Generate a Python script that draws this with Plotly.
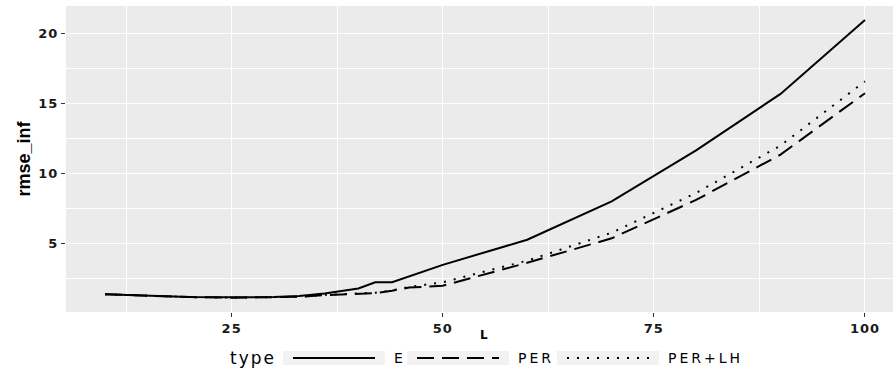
import plotly.graph_objects as go

# ---------------- data ----------------
L = [10, 15, 20, 25, 30, 33, 36, 40, 42, 44, 46, 50, 60, 70, 80, 90, 100]
E = [1.34, 1.22, 1.14, 1.12, 1.14, 1.22, 1.40, 1.75, 2.20, 2.20, 2.62, 3.45, 5.25, 8.00, 11.65, 15.70, 21.00]
PER = [1.34, 1.22, 1.14, 1.10, 1.11, 1.16, 1.28, 1.36, 1.42, 1.60, 1.82, 1.95, 3.60, 5.35, 8.10, 11.35, 15.75]
PER_LH = [1.34, 1.22, 1.14, 1.10, 1.11, 1.16, 1.30, 1.40, 1.45, 1.62, 1.86, 2.20, 3.75, 5.75, 8.60, 12.00, 16.60]

series_names = ["E", "PER", "PER+LH"]
legend_title = "type"
x_title = "L"
y_title = "rmse_inf"
x_tick_vals = [25, 50, 75, 100]
x_tick_labels = ["25", "50", "75", "100"]
y_tick_vals = [5, 10, 15, 20]
y_tick_labels = ["5", "10", "15", "20"]

# ---------------- layout geometry ----------------
W, H = 893, 371
ML, MR, MT, MB = 66, 0, 6, 59
PW = W - ML - MR
PH = H - MT - MB


def px_x(p):
    return (p - ML) / PW


def px_y(p):
    return (H - MB - p) / PH


dashes = ["solid", "17px,8px", "2px,8px"]
values = [E, PER, PER_LH]

fig = go.Figure()
for name, ys, d in zip(series_names, values, dashes):
    fig.add_trace(go.Scatter(
        x=L, y=ys, mode="lines", name=name, showlegend=False,
        line=dict(color="black", width=2, dash=d),
    ))

tick_font = dict(family="DejaVu Sans", size=13, color="#1a1a1a", weight="bold")


def spaced(t, sp):
    return f'<span style="letter-spacing:{sp}px">{t}</span>'


fig.update_xaxes(
    range=[5.38, 103.32], tickmode="array", tickvals=x_tick_vals,
    ticktext=[spaced(t, 1) for t in x_tick_labels],
    showgrid=True, gridcolor="white", gridwidth=1.4,
    minor=dict(dtick=12.5, tick0=0, showgrid=True, gridcolor="white", gridwidth=0.6),
    ticks="outside", ticklen=4, tickwidth=1, tickcolor="#333333",
    tickfont=tick_font, zeroline=False, showline=False,
)
fig.update_yaxes(
    range=[0.07, 22.0], tickmode="array", tickvals=y_tick_vals,
    ticktext=[spaced(t, 1) for t in y_tick_labels],
    showgrid=True, gridcolor="white", gridwidth=1.4,
    minor=dict(dtick=2.5, tick0=0, showgrid=True, gridcolor="white", gridwidth=0.6),
    ticks="outside", ticklen=4, tickwidth=1, tickcolor="#333333",
    tickfont=tick_font, zeroline=False, showline=False,
)

shapes = []
annotations = []

# axis titles
annotations.append(dict(
    text=x_title, xref="paper", yref="paper", x=px_x(484), y=px_y(335),
    xanchor="center", yanchor="middle", showarrow=False,
    font=dict(family="DejaVu Sans", size=12, color="black", weight="bold"),
))
annotations.append(dict(
    text=y_title, xref="paper", yref="paper", x=px_x(23.5), y=px_y(159),
    xanchor="center", yanchor="middle", showarrow=False, textangle=-90,
    font=dict(family="Liberation Sans", size=18, color="black", weight="bold"),
))

# legend (drawn manually: wide grey keys)
annotations.append(dict(
    text=spaced(legend_title, 2), xref="paper", yref="paper", x=px_x(228), y=px_y(358),
    xanchor="left", yanchor="middle", showarrow=False,
    font=dict(family="DejaVu Sans", size=17, color="black"),
))
box_lefts = [283, 407, 557]
box_w = 102
for name, d, bl in zip(series_names, dashes, box_lefts):
    shapes.append(dict(
        type="rect", xref="paper", yref="paper",
        x0=px_x(bl), x1=px_x(bl + box_w), y0=px_y(351), y1=px_y(365),
        fillcolor="#f2f2f2", line=dict(width=0), layer="below",
    ))
    shapes.append(dict(
        type="line", xref="paper", yref="paper",
        x0=px_x(bl + 10), x1=px_x(bl + box_w - 10), y0=px_y(358), y1=px_y(358),
        line=dict(color="black", width=2, dash=d),
    ))
    annotations.append(dict(
        text=spaced(name, 3), xref="paper", yref="paper", x=px_x(bl + box_w + 7), y=px_y(358),
        xanchor="left", yanchor="middle", showarrow=False,
        font=dict(family="DejaVu Sans", size=14, color="black"),
    ))

fig.update_layout(
    width=W, height=H,
    margin=dict(l=ML, r=MR, t=MT, b=MB, pad=0),
    plot_bgcolor="#ebebeb", paper_bgcolor="white",
    shapes=shapes, annotations=annotations,
    showlegend=False,
)

fig.write_html("out.html")
